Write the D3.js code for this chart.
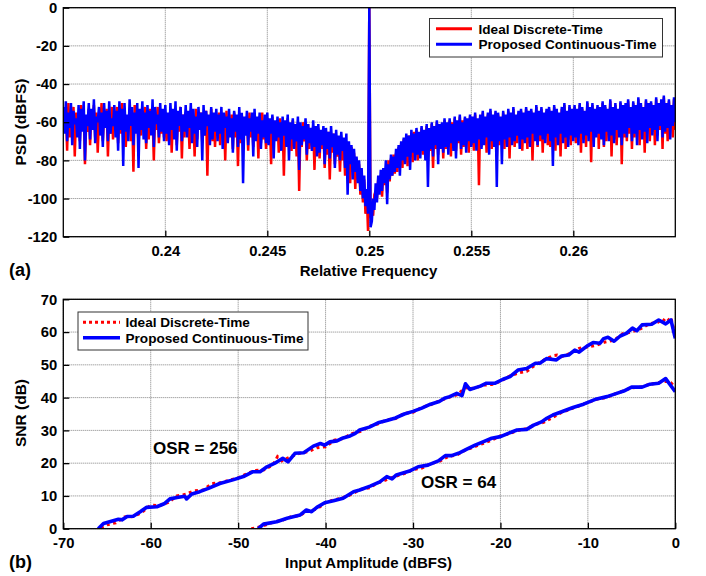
<!DOCTYPE html>
<html><head><meta charset="utf-8">
<script src="https://cdn.jsdelivr.net/npm/d3@7"></script>
<style>
body{margin:0;background:#fff}
svg text{font-family:"Liberation Sans",Arial,Helvetica,sans-serif;font-weight:bold;fill:#000}
</style>
</head><body>
<svg id="chart" width="706" height="576"></svg>
<script>
// ---------- Panel (a) data ----------
const psdFreqStart = 0.235;
const psdFreqStep = 0.0000625;
const psdRed = [
-56,-62,-53,-75,-50,-68,-58,-64,-52,-78,-55,-66,-57,-70,-51,-63,-54,-82,-59,-65,
-53,-72,-56,-61,-51,-68,-55,-76,-58,-64,-50,-70,-56,-63,-53,-78,-57,-66,-52,-69,
-55,-64,-52,-71,-57,-66,-50,-68,-54,-73,-58,-63,-53,-70,-56,-86,-51,-65,-55,-72,
-57,-67,-54,-63,-52,-74,-58,-69,-53,-65,-56,-80,-55,-64,-52,-71,-57,-66,-54,-68,
-55,-70,-58,-63,-53,-76,-56,-67,-54,-72,-57,-65,-52,-79,-56,-68,-55,-64,-58,-74,
-54,-66,-57,-78,-53,-69,-56,-64,-55,-71,-58,-67,-54,-88,-57,-66,-53,-70,-56,-73,
-57,-67,-55,-72,-58,-65,-56,-80,-54,-70,-59,-66,-56,-74,-55,-68,-58,-83,-57,-71,
-56,-70,-58,-66,-57,-75,-55,-68,-59,-73,-56,-67,-58,-79,-57,-71,-55,-69,-60,-74,
-58,-68,-60,-82,-57,-71,-61,-67,-59,-76,-58,-70,-61,-88,-60,-72,-58,-69,-62,-75,
-59,-71,-61,-78,-60,-96,-62,-73,-60,-70,-63,-80,-61,-74,-64,-72,-62,-85,-63,-76,
-63,-79,-65,-74,-64,-84,-66,-77,-65,-90,-67,-76,-66,-82,-68,-78,-70,-86,-69,-80,
-70,-88,-72,-84,-74,-92,-73,-86,-76,-95,-79,-90,-82,-98,-86,-102,-90,-108,-98,-117,
0,
-110,-105,-109,-98,-96,-100,-90,-95,-88,-99,-86,-93,-84,-97,-80,-91,-79,-88,-77,-87,
-76,-86,-73,-82,-71,-84,-69,-79,-68,-83,-67,-78,-66,-81,-65,-76,-64,-80,-66,-75,
-63,-77,-65,-73,-62,-80,-64,-75,-61,-84,-63,-74,-60,-77,-62,-72,-61,-79,-59,-74,
-61,-73,-59,-78,-60,-72,-58,-75,-61,-71,-57,-77,-59,-73,-58,-70,-60,-76,-57,-72,
-58,-75,-56,-70,-59,-93,-57,-73,-55,-71,-58,-76,-56,-69,-54,-74,-57,-72,-55,-78,
-56,-72,-58,-68,-55,-74,-57,-70,-54,-79,-56,-69,-53,-73,-57,-71,-55,-68,-54,-75,
-56,-69,-53,-74,-55,-71,-54,-80,-56,-68,-52,-73,-55,-70,-53,-76,-56,-67,-54,-72,
-53,-73,-55,-69,-52,-75,-54,-70,-56,-78,-53,-68,-51,-74,-55,-69,-52,-72,-54,-67,
-52,-71,-54,-68,-51,-76,-53,-69,-55,-73,-50,-67,-53,-81,-51,-70,-54,-66,-52,-74,
-53,-67,-50,-73,-52,-70,-54,-66,-49,-78,-53,-69,-51,-72,-54,-65,-50,-82,-52,-68,
-51,-70,-49,-66,-53,-74,-50,-68,-52,-65,-48,-72,-51,-67,-53,-76,-49,-64,-51,-70,
-50,-65,-52,-72,-48,-67,-51,-64,-49,-74,-47,-66,-51,-70,-49,-63,-52,-68,-48,-64
];
const psdBlue = [
-52,-66,-49,-70,-55,-63,-50,-72,-54,-61,-58,-68,-51,-74,-53,-65,-49,-80,-56,-62,
-50,-69,-53,-64,-48,-71,-57,-60,-52,-67,-55,-73,-50,-63,-54,-70,-49,-66,-58,-62,
-51,-68,-54,-75,-49,-64,-53,-83,-50,-65,-56,-70,-48,-62,-52,-72,-55,-66,-50,-84,
-53,-64,-49,-69,-55,-71,-51,-63,-54,-67,-48,-73,-52,-61,-56,-68,-50,-65,-53,-70,
-51,-66,-55,-72,-50,-64,-53,-69,-49,-75,-54,-62,-52,-70,-56,-65,-51,-68,-54,-63,
-50,-71,-53,-66,-57,-73,-52,-64,-55,-80,-51,-67,-54,-62,-56,-72,-52,-69,-55,-65,
-53,-70,-56,-66,-52,-74,-55,-63,-57,-71,-53,-68,-58,-76,-54,-65,-56,-73,-52,-69,
-55,-92,-57,-67,-54,-72,-58,-65,-55,-78,-53,-70,-57,-66,-55,-74,-59,-68,-56,-71,
-55,-72,-58,-66,-56,-79,-59,-70,-57,-68,-60,-75,-57,-67,-59,-73,-56,-80,-60,-69,
-58,-74,-61,-70,-57,-85,-60,-72,-62,-69,-58,-77,-61,-71,-63,-75,-59,-73,-62,-78,
-61,-76,-64,-72,-62,-82,-63,-74,-65,-79,-62,-73,-66,-84,-64,-77,-67,-80,-65,-75,
-68,-84,-66,-98,-70,-82,-72,-90,-74,-86,-78,-92,-80,-96,-84,-100,-88,-104,-95,-108,
0,
-115,-112,-100,-106,-92,-102,-88,-98,-85,-96,-84,-92,-80,-103,-82,-90,-77,-88,-78,-86,
-74,-84,-72,-88,-70,-80,-68,-82,-66,-78,-67,-85,-64,-76,-66,-80,-63,-77,-65,-79,
-62,-75,-64,-80,-61,-94,-63,-74,-60,-78,-62,-72,-59,-82,-61,-74,-60,-76,-58,-73,
-60,-77,-58,-71,-61,-75,-57,-79,-59,-70,-56,-74,-60,-72,-57,-76,-58,-70,-56,-73,
-57,-71,-55,-75,-58,-69,-56,-74,-54,-72,-57,-68,-55,-77,-53,-70,-56,-73,-54,-94,
-55,-70,-57,-82,-54,-69,-56,-73,-53,-68,-55,-72,-52,-70,-56,-67,-54,-74,-53,-69,
-55,-71,-52,-68,-54,-73,-53,-66,-55,-70,-51,-72,-54,-67,-52,-69,-55,-71,-53,-66,
-52,-70,-54,-83,-51,-68,-53,-72,-55,-66,-52,-71,-50,-68,-54,-73,-51,-67,-53,-70,
-51,-68,-53,-72,-50,-66,-52,-71,-54,-67,-49,-70,-52,-65,-50,-73,-53,-68,-51,-66,
-52,-69,-49,-72,-51,-65,-53,-70,-48,-67,-52,-71,-50,-64,-53,-68,-49,-72,-51,-66,
-50,-68,-48,-63,-52,-70,-49,-66,-51,-72,-47,-64,-50,-69,-52,-65,-48,-71,-50,-63,
-49,-67,-51,-64,-47,-70,-50,-62,-48,-68,-46,-65,-50,-63,-48,-69,-51,-62,-47,-60
];
const psdXTicks = [0.24, 0.245, 0.25, 0.255, 0.26];
const psdXTickLabels = ["0.24", "0.245", "0.25", "0.255", "0.26"];
const psdYTicks = [0, -20, -40, -60, -80, -100, -120];
const psdYTickLabels = ["0", "-20", "-40", "-60", "-80", "-100", "-120"];
const psdLegend = ["Ideal Discrete-Time", "Proposed Continuous-Time"];

// ---------- Panel (b) data: [input amplitude dBFS, SNR dB] ----------
const snr256Blue = [[-66,0],[-65.4,1.6],[-64.5,2.3],[-63.7,2.9],[-63.3,2.7],[-62.7,3.7],[-62,3.8],[-61.2,5.2],[-60.5,6.5],[-59.3,6.7],[-58.4,7.7],[-57.8,9.1],[-57,9.5],[-56.1,9.9],[-55.9,9.1],[-55.3,10.6],[-54.4,11.3],[-53.4,12.3],[-52.1,13.8],[-50.6,14.9],[-49.4,15.9],[-48.3,17.4],[-47.5,17.4],[-46.7,18.9],[-45.8,20.0],[-44.9,21.5],[-44.3,20.4],[-43.5,23.0],[-42.5,23.2],[-41.4,25.2],[-40.6,26.0],[-40.1,25.5],[-39.5,26.5],[-38.7,26.8],[-38,27.7],[-37.2,28.3],[-36.6,29.1],[-36.1,30.1],[-35,31.0],[-34,32.3],[-33,33.0],[-32,33.8],[-31,35.0],[-30,35.8],[-29,36.8],[-28,38.0],[-27,38.8],[-26.4,39.8],[-25.8,40.3],[-25.0,41.3],[-24.4,40.6],[-24.0,44.2],[-23.5,42.5],[-22.3,43.5],[-21.6,44.4],[-20.6,44.4],[-19.7,45.6],[-18.9,46.4],[-18.0,48.4],[-17.0,48.9],[-16.0,50.5],[-15.5,50.5],[-14.7,51.9],[-13.6,51.5],[-13.0,52.7],[-12.2,53.0],[-11.5,54.5],[-11.0,53.9],[-10.1,55.7],[-9.4,56.8],[-8.6,56.6],[-8.2,58.0],[-7.7,58.4],[-7.0,57.2],[-6.3,58.8],[-5.6,59.6],[-4.9,61.2],[-4.4,60.4],[-3.8,62.2],[-2.7,62.4],[-1.9,63.7],[-1.1,62.5],[-0.5,63.7],[0,58.1]];
const snr256Red = [[-65.7,0.3],[-65.5,0.6],[-65,1.2],[-64,1.8],[-63,3.6],[-62,3.7],[-61,5.0],[-60,7.2],[-59,7.0],[-58,8.0],[-57,10.0],[-56,10.5],[-55,11.6],[-54,11.8],[-53,13.8],[-52,14.0],[-51,14.8],[-50,15.5],[-49,16.8],[-48,17.8],[-47,18.0],[-46,19.5],[-45.5,22.0],[-45,20.7],[-44,22.0],[-43,23.0],[-42,23.5],[-41,24.7],[-40,25.0],[-39,27.0],[-38,27.5],[-37,29.0],[-36,29.7],[-35,31.2],[-34,32.0],[-33,33.2],[-32,33.6],[-31,35.2],[-30,35.5],[-29,37.0],[-28,37.8],[-27,39.0],[-26,40.0],[-25,40.8],[-24,43.0],[-23,42.8],[-22,43.8],[-21,44.0],[-20,45.0],[-19,46.5],[-18,47.5],[-17,48.0],[-16,50.0],[-15,51.5],[-14,52.8],[-13.5,53.0],[-13,52.5],[-12,53.5],[-11,55.0],[-10,55.5],[-9,56.0],[-8,57.0],[-7,57.5],[-6,59.5],[-5,60.0],[-4,61.0],[-3,62.5],[-2,63.0],[-1.5,64.0],[-1,63.0],[-0.5,64.5],[0,58.5]];
const snr64Blue = [[-47.7,0],[-47.1,1.4],[-45.6,2.1],[-44.4,3.2],[-42.9,4.2],[-42.2,5.7],[-41.6,5.2],[-41.0,6.5],[-40.1,7.9],[-39.1,8.5],[-38.0,9.3],[-36.8,11.3],[-36.1,11.8],[-34.9,13.0],[-33.8,14.3],[-33.0,15.9],[-32.4,15.2],[-31.9,16.4],[-30.3,17.7],[-29.4,18.9],[-28.3,19.4],[-27.1,20.7],[-26.3,22.3],[-25.6,22.3],[-24.8,23.0],[-23.9,24.2],[-22.9,25.5],[-22.0,26.5],[-21.0,27.6],[-20.0,28.1],[-19.1,29.1],[-18.1,30.1],[-17.0,30.3],[-16.2,31.6],[-15.3,32.6],[-14.7,33.7],[-14.0,34.7],[-13.0,35.7],[-11.7,37.0],[-10.5,38.0],[-9.0,39.6],[-7.8,40.3],[-6.7,41.3],[-5.9,42.0],[-5.0,43.2],[-3.8,43.2],[-2.9,44.1],[-1.9,44.4],[-1.1,45.8],[0,41.8]];
const snr64Red = [[-48.5,0],[-48,0.2],[-47,1.0],[-46,2.0],[-45,2.5],[-44,3.6],[-43,4.0],[-42,5.5],[-41,6.0],[-40,8.0],[-39,8.8],[-38,9.5],[-37,10.5],[-36,12.0],[-35,12.5],[-34,14.0],[-33,15.0],[-32,16.0],[-31,16.8],[-30,18.0],[-29,18.5],[-28,19.8],[-27,20.5],[-26,22.0],[-25,22.5],[-24,24.0],[-23,25.0],[-22,26.0],[-21,27.0],[-20,28.3],[-19,29.0],[-18,30.0],[-17,30.5],[-16,31.8],[-15,32.5],[-14,34.0],[-13,35.5],[-12,36.5],[-11,37.5],[-10,38.5],[-9,39.5],[-8,40.0],[-7,41.0],[-6,42.0],[-5,43.0],[-4,43.2],[-3,44.0],[-2,44.5],[-1,45.0],[-0.5,44.5],[0,43.0]];
const ampTicks = [-70, -60, -50, -40, -30, -20, -10, 0];
const ampTickLabels = ["-70", "-60", "-50", "-40", "-30", "-20", "-10", "0"];
const snrTicks = [0, 10, 20, 30, 40, 50, 60, 70];
const snrTickLabels = ["0", "10", "20", "30", "40", "50", "60", "70"];
const snrLegend = ["Ideal Discrete-Time", "Proposed Continuous-Time"];
const osrLabels = ["OSR = 256", "OSR = 64"];

// ---------- Drawing ----------
const svg = d3.select("#chart");
const RED = "#ff0000", BLUE = "#0000ff";
const FONT = '"Liberation Sans",Arial,sans-serif';

function panel(opts) {
  const {x, y, xTicks, xLabels, yTicks, yLabels, id} = opts;
  const [x0, x1] = x.range(), [y0, y1] = y.range();
  const g = svg.append("g");
  g.append("clipPath").attr("id", id).append("rect")
    .attr("x", x0).attr("y", y1).attr("width", x1 - x0).attr("height", y0 - y1);
  g.append("g").selectAll("line").data(xTicks).join("line")
    .attr("x1", d => x(d)).attr("x2", d => x(d)).attr("y1", y0).attr("y2", y1)
    .attr("stroke", "#808080").attr("stroke-width", 1).attr("stroke-dasharray", "1,1");
  g.append("g").selectAll("line").data(yTicks).join("line")
    .attr("y1", d => y(d)).attr("y2", d => y(d)).attr("x1", x0).attr("x2", x1)
    .attr("stroke", "#808080").attr("stroke-width", 1).attr("stroke-dasharray", "1,1");
  const content = g.append("g").attr("clip-path", `url(#${id})`);
  const ax = g.append("g").attr("transform", `translate(0,${y0})`)
    .call(d3.axisBottom(x).tickValues(xTicks).tickFormat((d, i) => xLabels[i]).tickSize(-6).tickPadding(9).tickSizeOuter(0));
  const ay = g.append("g").attr("transform", `translate(${x0},0)`)
    .call(d3.axisLeft(y).tickValues(yTicks).tickFormat((d, i) => yLabels[i]).tickSize(-6).tickPadding(6).tickSizeOuter(0));
  [ax, ay].forEach(a => {
    a.select(".domain").remove();
    a.selectAll("line").attr("stroke", "#000").attr("stroke-width", 1.3);
    a.selectAll("text").style("font-size", "14.8px").style("font-weight", "bold")
      .style("font-family", FONT).attr("fill", "#000");
  });
  const frame = g.append("rect").attr("x", x0).attr("y", y1).attr("width", x1 - x0).attr("height", y0 - y1)
    .attr("fill", "none").attr("stroke", "#000").attr("stroke-width", 1.3);
  return {g, content, frame, ax, ay};
}

// Panel (a)
const xa = d3.scaleLinear().domain([0.235, 0.265]).range([63.3, 675.3]);
const ya = d3.scaleLinear().domain([-120, 0]).range([236.7, 7.7]);
const pa = panel({x: xa, y: ya, xTicks: psdXTicks, xLabels: psdXTickLabels, yTicks: psdYTicks, yLabels: psdYTickLabels, id: "clipA"});
const psdLine = d3.line().x((d, i) => xa(psdFreqStart + i * psdFreqStep)).y(d => ya(d));
pa.content.append("path").datum(psdRed).attr("d", psdLine).attr("fill", "none")
  .attr("stroke", RED).attr("stroke-width", 2.5).attr("stroke-linejoin", "miter").attr("stroke-miterlimit", 2);
pa.content.append("path").datum(psdBlue).attr("d", psdLine).attr("fill", "none")
  .attr("stroke", BLUE).attr("stroke-width", 2.5).attr("stroke-linejoin", "miter").attr("stroke-miterlimit", 2);
pa.frame.raise(); pa.ax.raise(); pa.ay.raise();

const lgA = svg.append("g");
lgA.append("rect").attr("x", 429.5).attr("y", 18.5).attr("width", 233).attr("height", 38.5)
  .attr("fill", "#fff").attr("stroke", "#333").attr("stroke-width", 1);
[RED, BLUE].forEach((c, i) => {
  lgA.append("line").attr("x1", 436).attr("x2", 472).attr("y1", 28.7 + i * 15.6).attr("y2", 28.7 + i * 15.6)
    .attr("stroke", c).attr("stroke-width", 3);
  lgA.append("text").attr("x", 478.5).attr("y", 33.5 + i * 15.6).style("font-size", "13.6px").text(psdLegend[i]);
});

svg.append("text").attr("x", 368.5).attr("y", 275.5).attr("text-anchor", "middle").style("font-size", "15px").text("Relative Frequency");
svg.append("text").attr("transform", "translate(26,122) rotate(-90)").attr("text-anchor", "middle").style("font-size", "15.5px").text("PSD (dBFS)");
svg.append("text").attr("x", 9).attr("y", 276).style("font-size", "18px").text("(a)");

// Panel (b)
const xb = d3.scaleLinear().domain([-70, 0]).range([63.3, 675.3]);
const yb = d3.scaleLinear().domain([0, 70]).range([528.7, 299.3]);
const pb = panel({x: xb, y: yb, xTicks: ampTicks, xLabels: ampTickLabels, yTicks: snrTicks, yLabels: snrTickLabels, id: "clipB"});
const snrLine = d3.line().x(d => xb(d[0])).y(d => yb(d[1]));
[snr256Red, snr64Red].forEach(s => pb.content.append("path").datum(s).attr("d", snrLine).attr("fill", "none")
  .attr("stroke", RED).attr("stroke-width", 3).attr("stroke-dasharray", "3,3.5"));
[snr256Blue, snr64Blue].forEach(s => pb.content.append("path").datum(s).attr("d", snrLine).attr("fill", "none")
  .attr("stroke", BLUE).attr("stroke-width", 3.6).attr("stroke-linejoin", "round"));
pb.frame.raise(); pb.ax.raise(); pb.ay.raise();

const lgB = svg.append("g");
lgB.append("rect").attr("x", 78).attr("y", 312).attr("width", 230).attr("height", 38)
  .attr("fill", "#fff").attr("stroke", "#333").attr("stroke-width", 1);
lgB.append("line").attr("x1", 83).attr("x2", 120).attr("y1", 322.3).attr("y2", 322.3)
  .attr("stroke", RED).attr("stroke-width", 3).attr("stroke-dasharray", "3,3");
lgB.append("line").attr("x1", 83).attr("x2", 120).attr("y1", 337.7).attr("y2", 337.7)
  .attr("stroke", BLUE).attr("stroke-width", 3.6);
snrLegend.forEach((t, i) => lgB.append("text").attr("x", 125.5).attr("y", 327.2 + i * 15.3).style("font-size", "13.6px").text(t));

svg.append("text").attr("x", 153).attr("y", 453.5).style("font-size", "17px").text(osrLabels[0]);
svg.append("text").attr("x", 421).attr("y", 488).style("font-size", "17px").text(osrLabels[1]);

svg.append("text").attr("x", 368.5).attr("y", 568).attr("text-anchor", "middle").style("font-size", "15px").text("Input Amplitude (dBFS)");
svg.append("text").attr("transform", "translate(26,413) rotate(-90)").attr("text-anchor", "middle").style("font-size", "15.5px").text("SNR (dB)");
svg.append("text").attr("x", 9).attr("y", 568).style("font-size", "18px").text("(b)");
</script>
</body></html>
